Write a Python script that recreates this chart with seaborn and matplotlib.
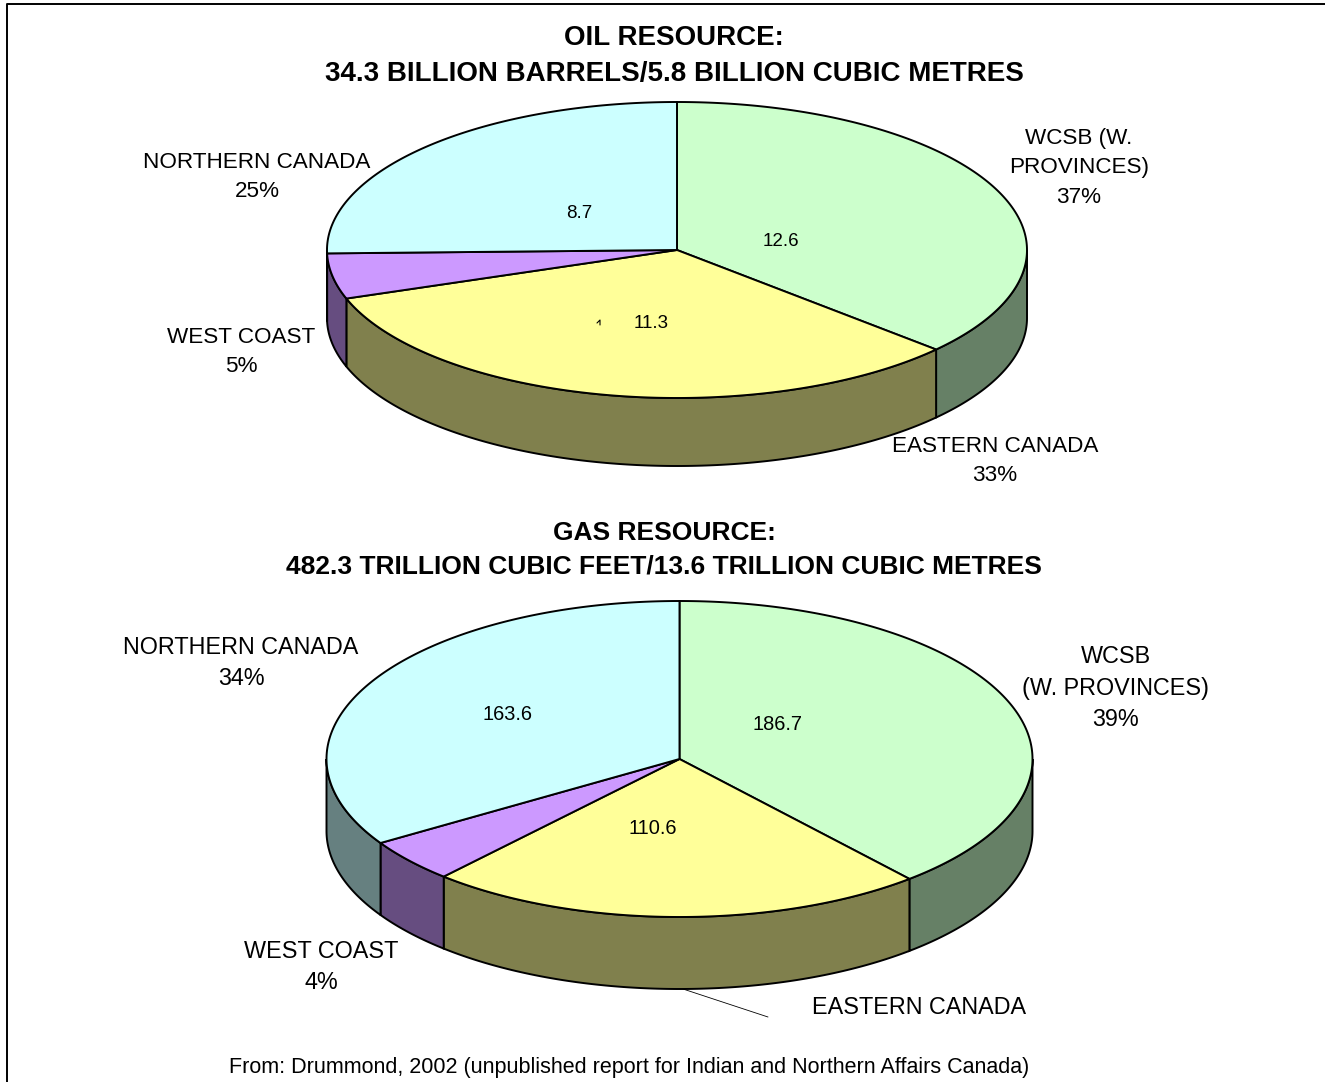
import numpy as np
import matplotlib
matplotlib.use('Agg')
import matplotlib.pyplot as plt
from matplotlib.patches import Polygon
import seaborn as sns

# pie values, order is clockwise from 12 o'clock
regions = ['WCSB', 'EASTERN CANADA', 'WEST COAST', 'NORTHERN CANADA']
oil_values = [12.6, 11.3, 1.7, 8.7]
gas_values = [186.7, 110.6, 21.4, 163.6]

oil_title = 'OIL RESOURCE:\n34.3 BILLION BARRELS/5.8 BILLION CUBIC METRES'
gas_title = 'GAS RESOURCE:\n482.3 TRILLION CUBIC FEET/13.6 TRILLION CUBIC METRES'
source = 'From: Drummond, 2002 (unpublished report for Indian and Northern Affairs Canada)'

# slice labels: text, x, y
oil_labels = [('WCSB (W.\nPROVINCES)\n37%', 1079, 168),
              ('EASTERN CANADA\n33%', 995, 461),
              ('WEST COAST\n5%', 241, 352),
              ('NORTHERN CANADA\n25%', 257, 177)]
gas_labels = [('WCSB\n(W. PROVINCES)\n39%', 1116, 688),
              ('EASTERN CANADA', 919, 1008),
              ('WEST COAST\n4%', 321, 967),
              ('NORTHERN CANADA\n34%', 241, 663)]
oil_inner = [('12.6', 781, 242), ('11.3', 651, 324), ('8.7', 579, 213)]
gas_inner = [('186.7', 778, 724), ('110.6', 653, 828), ('163.6', 507, 714)]

sns.set_theme(style='white')
plt.rcParams['font.family'] = ['Liberation Sans', 'DejaVu Sans']

colors = sns.color_palette(['#CCFFCC', '#FFFF99', '#CC99FF', '#CCFFFF'])
side_colors = [tuple(c * 0.5 for c in col) for col in colors]


def arc(cx, cy, rx, ry, a0, a1):
    t = np.radians(np.linspace(a0, a1, 200))
    return np.column_stack([cx + rx * np.sin(t), cy - ry * np.cos(t)])


def pie3d(ax, values, cx, cy, rx, ry, depth):
    edges = np.concatenate([[0], np.cumsum(values)]) / np.sum(values) * 360
    # sides first, only the front half can be seen
    for i in range(len(values)):
        a0, a1 = max(edges[i], 90), min(edges[i + 1], 270)
        if a0 >= a1:
            continue
        top = arc(cx, cy, rx, ry, a0, a1)
        bottom = top[::-1] + [0, depth]
        ax.add_patch(Polygon(np.vstack([top, bottom]), fc=side_colors[i], ec='black', lw=1.4, zorder=2))
    for i in range(len(values)):
        pts = np.vstack([[cx, cy], arc(cx, cy, rx, ry, edges[i], edges[i + 1])])
        ax.add_patch(Polygon(pts, fc=colors[i], ec='black', lw=1.4, zorder=3))


fig, ax = plt.subplots(figsize=(13.25, 10.82), dpi=100)
fig.subplots_adjust(0, 0, 1, 1)
ax.set_xlim(0, 1325)
ax.set_ylim(1082, 0)
ax.axis('off')

# chart frame, left and top only show in the image
ax.plot([6.5, 6.5, 1325], [1082, 4, 4], color='black', lw=1.4, zorder=1)

pie3d(ax, oil_values, 677, 250, 350, 148, 68)
pie3d(ax, gas_values, 679.5, 759, 353, 158, 72)

ax.text(674, 56, oil_title, ha='center', va='center', fontsize=20, fontweight='bold', color='black', linespacing=1.5)
ax.text(664, 550, gas_title, ha='center', va='center', fontsize=19, fontweight='bold', color='black', linespacing=1.5)

for txt, x, y in oil_labels:
    ax.text(x, y, txt, ha='center', va='center', fontsize=16.2, color='black', linespacing=1.55, zorder=5)
for txt, x, y in gas_labels:
    ax.text(x, y, txt, ha='center', va='center', fontsize=16.8, color='black', linespacing=1.46, zorder=5)
for txt, x, y in oil_inner:
    ax.text(x, y, txt, ha='center', va='center', fontsize=13.5, color='black', zorder=5)
for txt, x, y in gas_inner:
    ax.text(x, y, txt, ha='center', va='center', fontsize=14.4, color='black', zorder=5)

# leftover leader lines
ax.plot([680, 768], [988, 1017], color='black', lw=0.6, zorder=1)
ax.plot([597, 600, 600], [323, 320, 325], color='black', lw=0.8, zorder=5)

ax.text(629, 1068, source, ha='center', va='center', fontsize=15.5, color='black')

fig.savefig('out.png', dpi=100)
